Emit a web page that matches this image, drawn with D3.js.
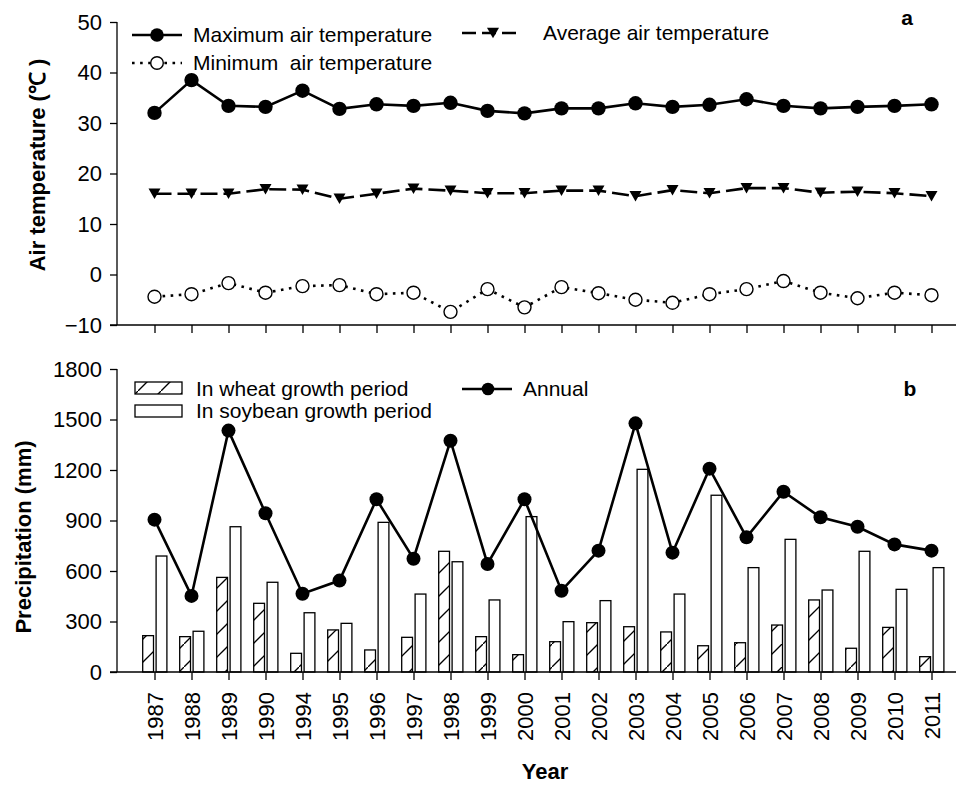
<!DOCTYPE html>
<html>
<head>
<meta charset="utf-8">
<script src="https://cdn.jsdelivr.net/npm/d3@7"></script>
<style>
  html, body { margin: 0; padding: 0; background: #fff; }
  svg { display: block; font-family: "Liberation Sans", Arial, sans-serif; }
</style>
</head>
<body>
<svg id="chart" width="957" height="787"></svg>
<script>
// Years of record (note the gap 1991-1993)
const years = ["1987","1988","1989","1990","1994","1995","1996","1997","1998","1999","2000",
               "2001","2002","2003","2004","2005","2006","2007","2008","2009","2010","2011"];

// Panel a: air temperature (°C)
const maxTemp = [32.0,38.5,33.4,33.2,36.4,32.8,33.7,33.4,34.0,32.4,31.9,32.9,32.9,33.9,33.2,33.6,34.7,33.4,32.9,33.2,33.4,33.7];
const avgTemp = [16.0,16.0,16.0,16.9,16.8,15.0,16.0,17.0,16.6,16.1,16.1,16.6,16.6,15.5,16.7,16.1,17.1,17.1,16.2,16.4,16.1,15.5];
const minTemp = [-4.4,-3.9,-1.7,-3.6,-2.3,-2.1,-3.9,-3.6,-7.4,-2.9,-6.5,-2.5,-3.7,-5.0,-5.6,-3.9,-2.9,-1.3,-3.6,-4.7,-3.6,-4.1];

// Panel b: precipitation (mm)
const annualPrecip  = [905,452,1434,943,465,543,1026,673,1374,642,1026,483,721,1477,709,1208,800,1071,919,863,758,721];
const wheatPrecip   = [216,210,562,408,111,250,131,206,717,210,103,180,293,269,238,156,174,279,428,141,265,91];
const soybeanPrecip = [689,242,863,533,352,289,889,463,655,428,923,299,424,1204,463,1050,620,788,487,717,491,620];

const tempTicks = [-10,0,10,20,30,40,50];
const precipTicks = [0,300,600,900,1200,1500,1800];

const svg = d3.select("#chart");

// hatch pattern for wheat bars
const defs = svg.append("defs");
const pat = defs.append("pattern")
  .attr("id","hatch").attr("patternUnits","userSpaceOnUse")
  .attr("width",23).attr("height",23);
pat.append("rect").attr("width",23).attr("height",23).attr("fill","#fff");
pat.append("path").attr("d","M-2,25 L25,-2").attr("stroke","#000").attr("stroke-width",1.3);

const axisLeft = 117;
const axisRight = 956;

const x = d3.scalePoint().domain(years).range([154.5, 931.5]);

const yA = d3.scaleLinear().domain([-10,50]).range([325,22]);
const yB = d3.scaleLinear().domain([0,1800]).range([672,369]);

function drawAxes(y, ticks, baseY, showLabels) {
  const gy = svg.append("g").attr("transform",`translate(${axisLeft},0)`)
    .call(d3.axisLeft(y).tickValues(ticks).tickSize(7).tickPadding(8).tickFormat(d3.format("d")));
  gy.select(".domain").attr("stroke","#000").attr("stroke-width",1.3).attr("d",`M0,${y.range()[0]}V${y.range()[1]}`);
  gy.selectAll(".tick line").attr("stroke","#000").attr("stroke-width",1.3);
  gy.selectAll(".tick text").attr("font-size",22).attr("fill","#000")
    .attr("font-family","'Liberation Sans', Arial, sans-serif");

  const gx = svg.append("g").attr("transform",`translate(0,${baseY})`)
    .call(d3.axisBottom(x).tickSize(8).tickPadding(12).tickFormat(showLabels ? d => d : () => ""));
  gx.select(".domain").attr("stroke","#000").attr("stroke-width",1.3).attr("d",`M${axisLeft-7},0H${axisRight}`);
  gx.selectAll(".tick line").attr("stroke","#000").attr("stroke-width",1.3);
  if (showLabels) {
    gx.selectAll(".tick text")
      .attr("font-size",22).attr("fill","#000")
      .attr("font-family","'Liberation Sans', Arial, sans-serif")
      .attr("text-anchor","end")
      .attr("transform","rotate(-90)")
      .attr("x",-20).attr("y",0).attr("dy","0.35em");
  } else {
    gx.selectAll(".tick text").remove();
  }
}

// ---------- Panel a ----------
drawAxes(yA, tempTicks, 325, false);

const lineA = vals => d3.line().x((d,i)=>x(years[i])).y(d=>yA(d))(vals);

svg.append("path").attr("d",lineA(maxTemp)).attr("fill","none")
  .attr("stroke","#000").attr("stroke-width",2.6);
svg.append("path").attr("d",lineA(avgTemp)).attr("fill","none")
  .attr("stroke","#000").attr("stroke-width",2.6).attr("stroke-dasharray","17,6");
svg.append("path").attr("d",lineA(minTemp)).attr("fill","none")
  .attr("stroke","#000").attr("stroke-width",2.6).attr("stroke-dasharray","2.6,5.5");

const triPath = (cx, cy, w, h) =>
  `M${cx-w/2},${cy-h/2}L${cx+w/2},${cy-h/2}L${cx},${cy+h/2}Z`;

svg.append("g").selectAll("circle").data(maxTemp).join("circle")
  .attr("cx",(d,i)=>x(years[i])).attr("cy",d=>yA(d)).attr("r",7.2).attr("fill","#000");
svg.append("g").selectAll("path").data(avgTemp).join("path")
  .attr("d",(d,i)=>triPath(x(years[i]), yA(d), 12, 10.5)).attr("fill","#000");
svg.append("g").selectAll("circle").data(minTemp).join("circle")
  .attr("cx",(d,i)=>x(years[i])).attr("cy",d=>yA(d)).attr("r",6.5)
  .attr("fill","#fff").attr("stroke","#000").attr("stroke-width",1.4);

// legend a
const legA = svg.append("g").attr("font-size",21).attr("fill","#000");
legA.append("line").attr("x1",132).attr("x2",182).attr("y1",35).attr("y2",35)
  .attr("stroke","#000").attr("stroke-width",2.6);
legA.append("circle").attr("cx",157).attr("cy",35).attr("r",6.8).attr("fill","#000");
legA.append("text").attr("x",193).attr("y",35).attr("dy","0.35em").text("Maximum air temperature");

legA.append("line").attr("x1",132).attr("x2",182).attr("y1",63).attr("y2",63)
  .attr("stroke","#000").attr("stroke-width",2.6).attr("stroke-dasharray","2.6,5.5");
legA.append("circle").attr("cx",157).attr("cy",63).attr("r",6.3)
  .attr("fill","#fff").attr("stroke","#000").attr("stroke-width",1.4);
legA.append("text").attr("x",193).attr("y",63).attr("dy","0.35em").attr("xml:space","preserve")
  .text("Minimum  air temperature");

legA.append("line").attr("x1",462).attr("x2",520).attr("y1",33).attr("y2",33)
  .attr("stroke","#000").attr("stroke-width",2.6).attr("stroke-dasharray","14,6");
legA.append("path").attr("d",triPath(493,33,12,10.5)).attr("fill","#000");
legA.append("text").attr("x",543).attr("y",33).attr("dy","0.35em").text("Average air temperature");

svg.append("text").attr("x",907).attr("y",18).attr("dy","0.35em").attr("text-anchor","middle")
  .attr("font-size",21).attr("font-weight","bold").text("a");

svg.append("text")
  .attr("transform","translate(45,165) rotate(-90)")
  .attr("text-anchor","middle").attr("font-size",22).attr("font-weight","bold")
  .text("Air temperature (℃ )");

// ---------- Panel b ----------
// bars first, then axes on top
const barW = 10.8;
svg.append("g").selectAll("rect").data(wheatPrecip).join("rect")
  .attr("x",(d,i)=>x(years[i]) - 11.8).attr("width",barW)
  .attr("y",d=>yB(d)).attr("height",d=>yB(0)-yB(d))
  .attr("fill","url(#hatch)").attr("stroke","#000").attr("stroke-width",1.3);
svg.append("g").selectAll("rect").data(soybeanPrecip).join("rect")
  .attr("x",(d,i)=>x(years[i]) + 1.6).attr("width",barW)
  .attr("y",d=>yB(d)).attr("height",d=>yB(0)-yB(d))
  .attr("fill","#fff").attr("stroke","#000").attr("stroke-width",1.3);

drawAxes(yB, precipTicks, 672, true);

svg.append("path")
  .attr("d",d3.line().x((d,i)=>x(years[i])).y(d=>yB(d))(annualPrecip))
  .attr("fill","none").attr("stroke","#000").attr("stroke-width",2.6);
svg.append("g").selectAll("circle").data(annualPrecip).join("circle")
  .attr("cx",(d,i)=>x(years[i])).attr("cy",d=>yB(d)).attr("r",7).attr("fill","#000");

// legend b
const legB = svg.append("g").attr("font-size",21).attr("fill","#000");
legB.append("rect").attr("x",135).attr("y",382).attr("width",47).attr("height",12)
  .attr("fill","url(#hatch)").attr("stroke","#000").attr("stroke-width",1.3);
legB.append("text").attr("x",196).attr("y",389).attr("dy","0.35em").text("In wheat growth period");
legB.append("rect").attr("x",135).attr("y",405).attr("width",47).attr("height",12)
  .attr("fill","#fff").attr("stroke","#000").attr("stroke-width",1.3);
legB.append("text").attr("x",196).attr("y",411).attr("dy","0.35em").text("In soybean growth period");

legB.append("line").attr("x1",462).attr("x2",512).attr("y1",389).attr("y2",389)
  .attr("stroke","#000").attr("stroke-width",2.6);
legB.append("circle").attr("cx",488).attr("cy",389).attr("r",6.3).attr("fill","#000");
legB.append("text").attr("x",523).attr("y",389).attr("dy","0.35em").text("Annual");

svg.append("text").attr("x",910).attr("y",389).attr("dy","0.35em").attr("text-anchor","middle")
  .attr("font-size",21).attr("font-weight","bold").text("b");

svg.append("text")
  .attr("transform","translate(31,537) rotate(-90)")
  .attr("text-anchor","middle").attr("font-size",22).attr("font-weight","bold")
  .text("Precipitation (mm)");

svg.append("text").attr("x",545).attr("y",771).attr("dy","0.35em")
  .attr("text-anchor","middle").attr("font-size",22).attr("font-weight","bold")
  .text("Year");
</script>
</body>
</html>
